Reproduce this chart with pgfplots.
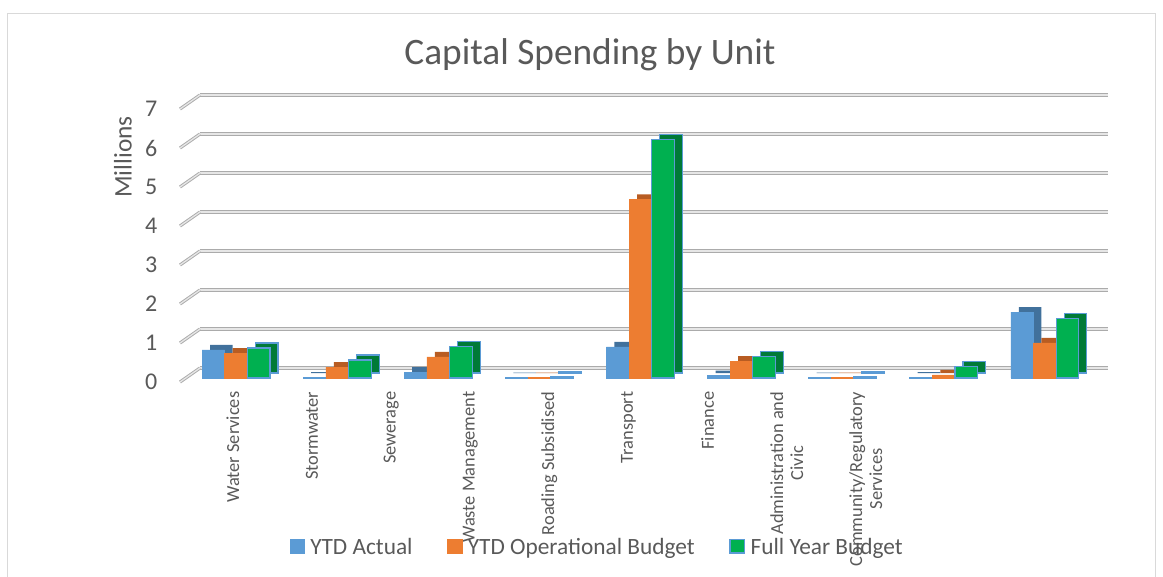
\documentclass[border=0pt]{standalone}
\usepackage{pgfplots}
\pgfplotsset{compat=1.18}
\usepackage{pgfplotstable}
\usepackage{fontspec}
\setmainfont{Carlito}
\definecolor{cBlue}{HTML}{5B9BD5}
\definecolor{cBlueD}{HTML}{41719C}
\definecolor{cOrange}{HTML}{ED7D31}
\definecolor{cOrangeD}{HTML}{B85C22}
\definecolor{cGreen}{HTML}{00B050}
\definecolor{cGreenD}{HTML}{007A37}
\definecolor{txt}{HTML}{595959}
\definecolor{gridc}{HTML}{ABABAB}
\definecolor{gridi}{HTML}{E6E6E6}

\pgfplotstableread{
x a b c
0 0.72 0.64 0.77
1 0.02 0.28 0.46
2 0.15 0.54 0.80
3 0.01 0.01 0.03
4 0.80 4.58 6.12
5 0.06 0.43 0.55
6 0.01 0.01 0.03
7 0.02 0.08 0.30
8 1.69 0.90 1.53
}\data

\begin{document}
\begin{tikzpicture}
\useasboundingbox (-135pt,-149.25pt) rectangle (737.25pt,283.5pt);
\draw[color=black!15, line width=0.75pt] (-129.4pt,-152pt) -- (-129.4pt,273pt) -- (731.25pt,273pt) -- (731.25pt,-152pt);

% back wall grid
\begin{axis}[at={(15pt,0pt)}, anchor=south west, scale only axis,
  width=681pt, height=212.82pt, xmin=0, xmax=1, ymin=-0.256, ymax=7.02,
  ytick={0,...,7}, xtick=\empty, yticklabels={}, ymajorgrids,
  major grid style={draw=gridc, double=gridi, double distance=1pt, line width=0.7pt},
  axis line style={draw=none}, major tick length=0pt, clip=false]
\addplot[draw=none] coordinates {(0,0)};
\end{axis}
\foreach \k in {0,...,7} {
  \draw[draw=gridc, double=gridi, double distance=1pt, line width=0.7pt]
    (0pt,{\k*29.25pt-3pt}) -- (15pt,{(\k+0.256)*29.25pt});
}

% depth (side/top faces)
\begin{axis}[at={(0pt,0pt)}, anchor=south west, scale only axis,
  width=696pt, height=204.75pt, xmin=-0.554, xmax=8.625, ymin=-0.128, ymax=6.872,
  hide axis, ybar=0pt, bar width=17pt]
\addplot[fill=cBlueD, draw=none, bar shift=-11pt] table[x=x,y=a]{\data};
\addplot[fill=cOrangeD, draw=none, bar shift=6pt] table[x=x,y=b]{\data};
\addplot[fill=cGreenD, draw=cBlue, line width=0.9pt, bar shift=23pt] table[x=x,y=c]{\data};
\end{axis}

% front faces
\begin{axis}[at={(0pt,0pt)}, anchor=south west, scale only axis,
  width=696pt, height=204.75pt, xmin=-0.554, xmax=8.625, ymin=0, ymax=7,
  ytick={0,...,7}, ybar=0pt, bar width=17pt,
  axis line style={draw=none}, major tick length=0pt,
  /pgf/number format/assume math mode=true,
  xtick={-0.03,0.752,1.535,2.317,3.099,3.882,4.664,5.447,6.229},
  xticklabels={Water Services, Stormwater, Sewerage, Waste Management, Roading Subsidised, Transport, Finance, {Administration and\\Civic}, {Community/Regulatory\\Services}},
  xticklabel style={yshift=-6.75pt, rotate=90, anchor=east, align=center, font=\fontsize{13.8}{15}\selectfont, text=txt},
  yticklabel style={xshift=-13.5pt, yshift=-3pt, font=\fontsize{18}{20}\selectfont, text=txt},
  legend style={at={(0.45,-0.619)}, anchor=center, draw=none, fill=none, legend columns=-1,
    font=\fontsize{17.5}{19}\selectfont, text=txt,
    /tikz/every odd column/.append style={column sep=2pt},
    /tikz/every even column/.append style={column sep=24pt}},
  legend image code/.code={\fill[#1] (0pt,-4.5pt) rectangle (11pt,5.5pt);},
  clip=false]
\addplot[fill=cBlue, draw=cBlue, line width=0.4pt, bar shift=-17pt] table[x=x,y=a]{\data};
\addplot[fill=cOrange, draw=cOrange, line width=0.4pt, bar shift=0pt] table[x=x,y=b]{\data};
\addplot[fill=cGreen, draw=cBlue, line width=0.9pt, bar shift=17pt] table[x=x,y=c]{\data};
\legend{YTD Actual, YTD Operational Budget, Full Year Budget}
\end{axis}

\node[anchor=base, font=\fontsize{28}{32}\selectfont, text=txt] at (307.5pt,234.75pt) {Capital Spending by Unit};
\node[rotate=90, font=\fontsize{19}{22}\selectfont, text=txt] at (-42.75pt,165.75pt) {Millions};
\end{tikzpicture}
\end{document}
